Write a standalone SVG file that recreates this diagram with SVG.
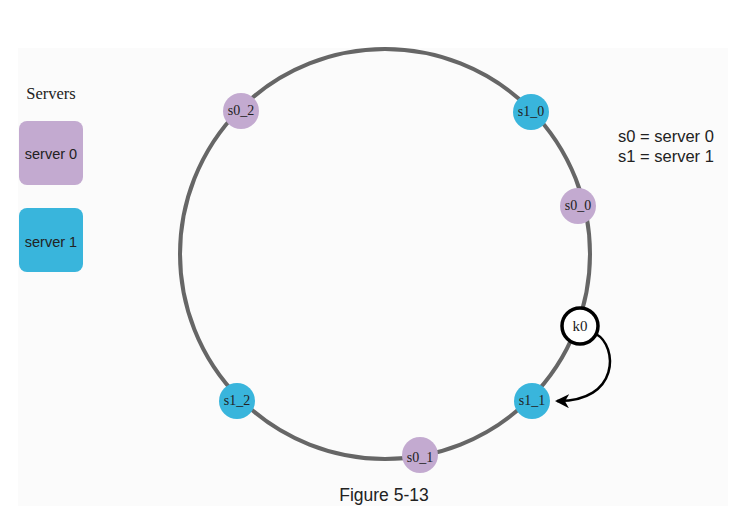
<svg xmlns="http://www.w3.org/2000/svg" width="744" height="506" viewBox="0 0 744 506">
<defs>
<style>
.s0{fill:#c3aad0}
.s1{fill:#39b5dc}
.lbl{font-family:"Liberation Serif","DejaVu Serif",serif;font-size:14px;fill:#222;text-anchor:middle;font-variant-numeric:oldstyle-nums}
.sans{font-family:"Liberation Sans",Arial,sans-serif;fill:#222}
</style>
<marker id="ah" viewBox="0 0 14 14" refX="12" refY="7" markerWidth="14" markerHeight="14" markerUnits="userSpaceOnUse" orient="auto">
<path d="M0 0 L14 7 L0 14 L4 7 Z" fill="#000"/>
</marker>
</defs>
<rect width="744" height="506" fill="#fff"/>
<rect x="18" y="48" width="710" height="458" fill="#fbfbfb"/>
<g id="legend">
<text x="51" y="99" text-anchor="middle" font-family="Liberation Serif,serif" font-size="16.5" fill="#222">Servers</text>
<g id="legend-server0"><rect x="19" y="121" width="64" height="64" rx="8" class="s0"/><text x="51" y="159" text-anchor="middle" font-size="14.5" class="sans">server 0</text></g>
<g id="legend-server1"><rect x="19" y="208" width="64" height="64" rx="8" class="s1"/><text x="51" y="247" text-anchor="middle" font-size="14.5" class="sans">server 1</text></g>
<text x="618" y="142" font-size="16.5" class="sans">s0 = server 0</text>
<text x="618" y="162" font-size="16.5" class="sans">s1 = server 1</text>
</g>
<g id="ring"><circle cx="385" cy="254" r="205" fill="none" stroke="#666" stroke-width="4"/></g>
<g id="connectors">
<path d="M596 334 C618 346 620 402 557 401" fill="none" stroke="#000" stroke-width="2.5" marker-end="url(#ah)"/>
</g>
<g id="s0_2"><circle cx="241" cy="111" r="18" class="s0"/><text x="241" y="115" class="lbl">s0_2</text></g>
<g id="s1_0"><circle cx="531" cy="112" r="18" class="s1"/><text x="531" y="116" class="lbl">s1_0</text></g>
<g id="s0_0"><circle cx="578" cy="206" r="18" class="s0"/><text x="578" y="210" class="lbl">s0_0</text></g>
<g id="k0"><circle cx="580" cy="326" r="18" fill="#fff" stroke="#000" stroke-width="3.5"/><text x="580" y="331" class="lbl" style="font-size:15px">k0</text></g>
<g id="s1_1"><circle cx="532" cy="401" r="18" class="s1"/><text x="532" y="405" class="lbl">s1_1</text></g>
<g id="s1_2"><circle cx="237" cy="401" r="18" class="s1"/><text x="237" y="405" class="lbl">s1_2</text></g>
<g id="s0_1"><circle cx="420" cy="455" r="18" class="s0"/><text x="420" y="462" class="lbl">s0_1</text></g>
<text x="384" y="501" text-anchor="middle" font-size="17.5" class="sans">Figure 5-13</text>
</svg>
